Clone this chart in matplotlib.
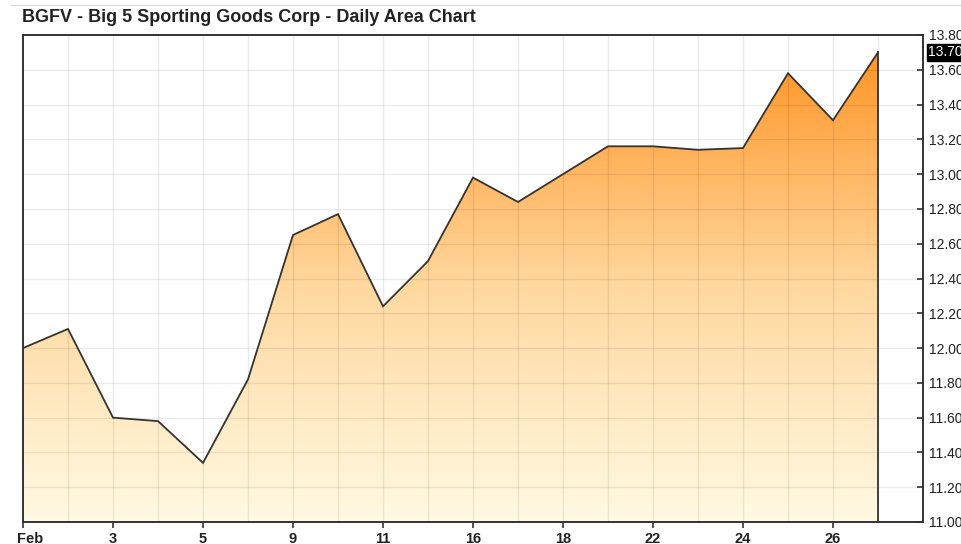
import numpy as np
import matplotlib
matplotlib.use("Agg")
import matplotlib.pyplot as plt
import matplotlib.transforms as mtransforms
from matplotlib.colors import LinearSegmentedColormap
from matplotlib.lines import Line2D

plt.rcParams['font.family'] = ['Liberation Sans', 'DejaVu Sans']

title = "BGFV - Big 5 Sporting Goods Corp - Daily Area Chart"
days = [1, 2, 3, 4, 5, 8, 9, 10, 11, 12, 16, 17, 18, 19, 22, 23, 24, 25, 26, 27]
prices = [12.00, 12.11, 11.60, 11.58, 11.34, 11.82, 12.65, 12.77, 12.24, 12.50,
          12.98, 12.84, 13.00, 13.16, 13.16, 13.14, 13.15, 13.58, 13.31, 13.70]
x_tick_idx = [0, 2, 4, 6, 8, 10, 12, 14, 16, 18]
x_tick_labels = ["Feb", "3", "5", "9", "11", "16", "18", "22", "24", "26"]
y_ticks = [11.00, 11.20, 11.40, 11.60, 11.80, 12.00, 12.20, 12.40, 12.60,
           12.80, 13.00, 13.20, 13.40, 13.60, 13.80]
last_label = "13.70"

W, H = 961, 544
fig = plt.figure(figsize=(W / 100, H / 100), dpi=100)
ax = fig.add_axes([23 / W, (H - 522) / H, (923 - 23) / W, (522 - 35) / H])

x = np.arange(len(prices))
ymin, ymax = 11.0, 13.8
ax.set_xlim(0, 20)
ax.set_ylim(ymin, ymax)

# gradient fill
cmap = LinearSegmentedColormap.from_list("g", ["#FFFAE3", "#FFD89F", "#FF9526"], N=256)
poly = ax.fill_between(x, prices, ymin, facecolor="none", edgecolor="none")
grad = np.linspace(0, 1, 256).reshape(-1, 1)
im = ax.imshow(grad, cmap=cmap, origin="lower", aspect="auto",
               extent=[0, len(prices) - 1, ymin, max(prices)], zorder=1,
               interpolation="bilinear")
im.set_clip_path(poly.get_paths()[0], transform=ax.transData)

# outline
ax.plot(x, prices, color="#333333", lw=1.3, zorder=4, solid_joinstyle="miter")
ax.plot([x[-1], x[-1]], [ymin, prices[-1]], color="#333333", lw=1.3, zorder=4)

# grid
for i in range(1, 20):
    ax.axvline(i, color="#000000", alpha=0.08, lw=1.0, zorder=3)
for yv in y_ticks[1:-1]:
    ax.axhline(yv, color="#000000", alpha=0.08, lw=1.0, zorder=3)

# axes styling
for s in ax.spines.values():
    s.set_color("#333333")
    s.set_linewidth(1.4)
    s.set_zorder(5)

ax.yaxis.tick_right()
ax.set_yticks(y_ticks)
ax.set_yticklabels([f"{v:.2f}" for v in y_ticks], fontsize=10, color="#222222")
ax.tick_params(axis="y", direction="in", length=4, width=1.2, color="#333333", pad=4)

ax.set_xticks(x_tick_idx)
ax.set_xticklabels(x_tick_labels, fontsize=10.5, fontweight="bold", color="#222222")
ax.tick_params(axis="x", direction="out", length=4, width=1.2, color="#333333", pad=3)
first = ax.get_xticklabels()[0]
first.set_transform(first.get_transform() + mtransforms.ScaledTranslation(7 / 100, 0, fig.dpi_scale_trans))

# last value badge
ax.annotate(last_label, xy=(1, prices[-1]), xycoords=("axes fraction", "data"),
            xytext=(5, 0), textcoords="offset pixels", ha="left", va="center",
            fontsize=10, color="white",
            bbox=dict(boxstyle="square,pad=0.08", facecolor="black", edgecolor="black"),
            zorder=10, annotation_clip=False)

# title and top rule
fig.text(22 / W, 1 - 18 / H, title, fontsize=13, fontweight="bold",
         color="#222222", ha="left", va="center")
fig.add_artist(Line2D([11 / W, 1], [1 - 5 / H, 1 - 5 / H], color="#dddddd", lw=1,
                      transform=fig.transFigure))

fig.savefig("out.png", dpi=100)
